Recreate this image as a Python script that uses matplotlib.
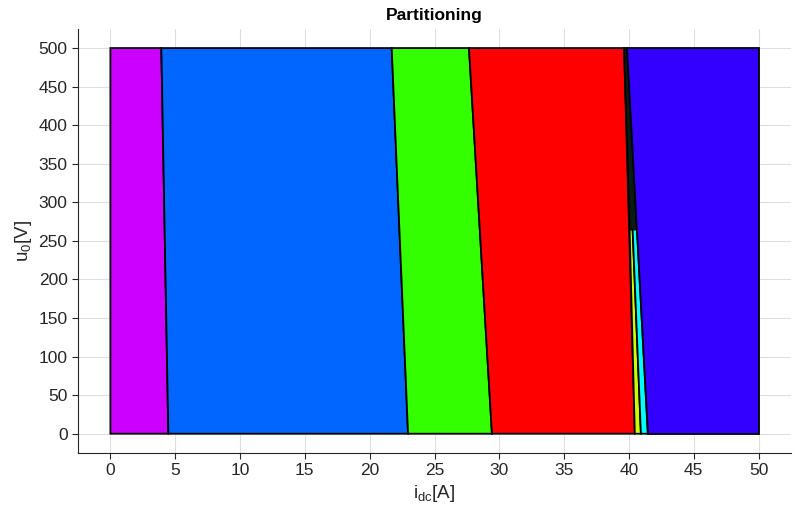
import matplotlib
matplotlib.use("Agg")
import matplotlib.pyplot as plt
from matplotlib.patches import Polygon
import colorsys

plt.rcParams['font.family'] = ['Liberation Sans', 'DejaVu Sans']
plt.rcParams['mathtext.fontset'] = 'custom'
plt.rcParams['mathtext.rm'] = 'Liberation Sans'
plt.rcParams['mathtext.it'] = 'Liberation Sans'

# Region vertices (i_dc [A], u_0 [V])
region_names = ["r1", "r2", "r3", "r4", "r5", "r6", "dark", "r7"]
region_x = [
    [0.0, 4.47, 3.93, 0.0],
    [4.47, 22.96, 21.70, 3.93],
    [22.96, 29.43, 27.66, 21.70],
    [29.43, 40.45, 39.62, 27.66],
    [40.45, 40.92, 40.28, 40.05],
    [40.92, 41.45, 40.62, 40.28],
    [40.05, 40.62, 39.88, 39.62],
    [41.45, 50.0, 50.0, 39.88],
]
region_u = [
    [0, 0, 500, 500],
    [0, 0, 500, 500],
    [0, 0, 500, 500],
    [0, 0, 500, 500],
    [0, 0, 265, 265],
    [0, 0, 265, 265],
    [265, 265, 500, 500],
    [0, 0, 500, 500],
]
region_hue = [0.8, 0.6, 0.3, 0.0, 0.2, 0.5, None, 0.7]

x_ticks = list(range(0, 51, 5))
y_ticks = list(range(0, 501, 50))

fig = plt.figure(figsize=(8.03, 5.14), dpi=100)
ax = fig.add_axes([0.0971, 0.1187, 0.888, 0.8253])

for xs, us, h in zip(region_x, region_u, region_hue):
    fc = '#0a1a14' if h is None else colorsys.hsv_to_rgb(h, 1, 1)
    ax.add_patch(Polygon(list(zip(xs, us)), closed=True, facecolor=fc,
                         edgecolor='black', linewidth=1.3, zorder=2))

ax.set_xlim(-2.5, 52.5)
ax.set_ylim(-25, 525)
ax.set_xticks(x_ticks)
ax.set_yticks(y_ticks)
ax.grid(True, color='#dfdfdf', linewidth=0.8, zorder=0)
ax.set_axisbelow(True)
for s in ['top', 'right']:
    ax.spines[s].set_visible(False)
for s in ['left', 'bottom']:
    ax.spines[s].set_color('#262626')
    ax.spines[s].set_linewidth(0.8)
ax.tick_params(direction='out', length=4, width=0.8, colors='#262626',
               labelsize=12.5, labelcolor='#262626')
ax.set_xlabel(r'i$_{\mathrm{dc}}$[A]', fontsize=13.5, color='#262626', labelpad=3)
ax.set_ylabel(r'u$_{\mathrm{0}}$[V]', fontsize=13.5, color='#262626', labelpad=3)
ax.set_title('Partitioning', fontsize=12.5, fontweight='bold', pad=6)

fig.savefig('out.png', dpi=100)
